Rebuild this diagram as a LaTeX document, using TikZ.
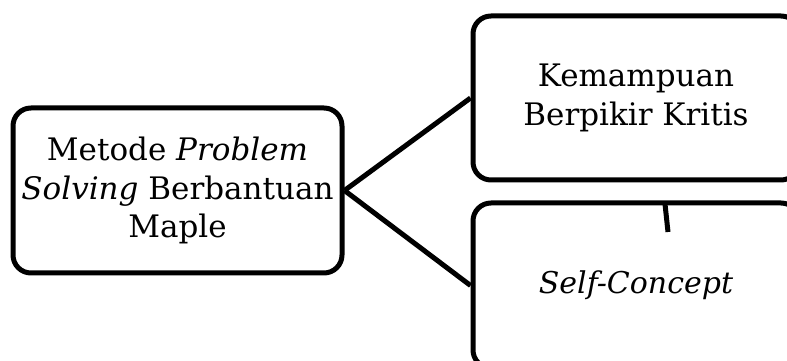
\documentclass[tikz,border=0pt]{standalone}
\usepackage{fontspec}
\setmainfont{DejaVu Serif}
\begin{document}
\begin{tikzpicture}[x=1pt,y=1pt,
  box/.style={draw, line width=5pt, rounded corners=18pt, align=center,
    font=\fontsize{31}{38.5}\selectfont, inner sep=0pt},
  link/.style={line width=5pt}]
\useasboundingbox (0,0) rectangle (787,361);
\clip (0,0) rectangle (787,361);
\node[box, minimum width=329pt, minimum height=165pt] (m) at (177.5,170.5)
  {Metode \textit{Problem}\\ \textit{Solving} Berbantuan\\ Maple};
\node[box, minimum width=326pt, minimum height=164pt] (k) at (636,263)
  {Kemampuan\\ Berpikir Kritis};
\node[box, minimum width=326pt, minimum height=165pt] (s) at (636,75.5)
  {\fontsize{30}{38.5}\selectfont\textit{Self-Concept}};
\coordinate (t1) at (665,157);
\coordinate (t2) at (668,129);
\draw[link] (t1) -- (t2);
\draw[link] (m.east) -- (k.west);
\draw[link] (m.east) -- (s.west);
\end{tikzpicture}
\end{document}
